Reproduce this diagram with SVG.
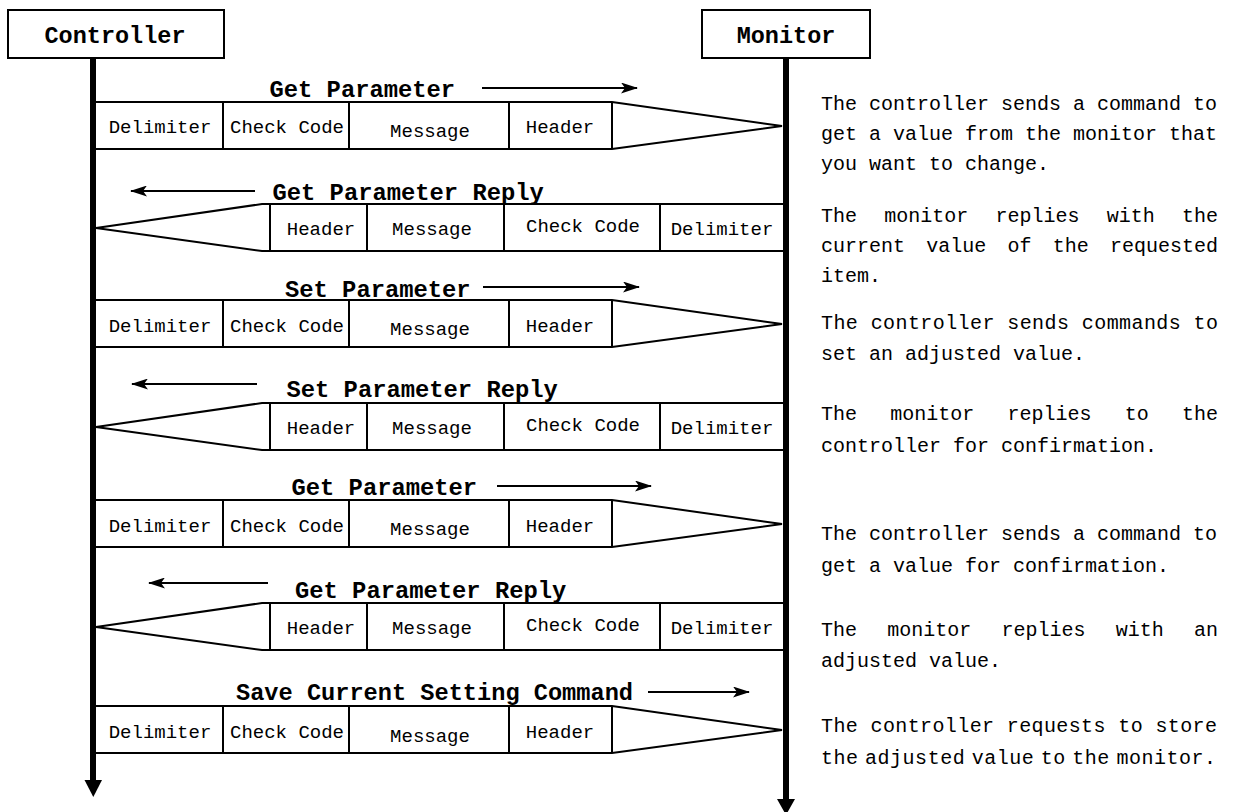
<svg xmlns="http://www.w3.org/2000/svg" width="1246" height="812" viewBox="0 0 1246 812">
<style>
.box{fill:#fff;stroke:#000;stroke-width:2}
.pk{fill:none;stroke:#000;stroke-width:2;stroke-linejoin:miter}
.life{stroke:#000;stroke-width:6;fill:none}
.lbl{font-family:"Courier New","Liberation Mono",monospace;font-weight:bold;font-size:23.8px;fill:#000}
.cell{font-family:"Courier New","Liberation Mono",monospace;font-size:19px;fill:#000;text-anchor:middle}
.desc{font-family:"Courier New","Liberation Mono",monospace;font-size:20px;fill:#000}
.ttl{font-family:"Courier New","Liberation Mono",monospace;font-weight:bold;font-size:23.5px;fill:#000;text-anchor:middle}
.arr{stroke:#000;stroke-width:2;fill:none}
</style>
<defs>
<marker id="ah" viewBox="0 0 17 11" refX="16" refY="5.5" markerWidth="17" markerHeight="11" markerUnits="userSpaceOnUse" orient="auto">
<path d="M0,0 L17,5.5 L0,11 L4,5.5 z" fill="#000"/>
</marker>
</defs>
<rect width="1246" height="812" fill="#fff"/>

<g id="controller">
<rect class="box" x="8" y="10" width="216" height="48"/>
<text class="ttl" x="115" y="43">Controller</text>
<line class="life" x1="93" y1="58" x2="93" y2="782"/>
<path d="M84.5,780 L102,780 L93.3,797 z" fill="#000"/>
</g>
<g id="monitor">
<rect class="box" x="702" y="10" width="168" height="48"/>
<text class="ttl" x="786" y="43">Monitor</text>
<line class="life" x1="786" y1="58" x2="786" y2="801"/>
<path d="M777,799 L795,799 L786,815 z" fill="#000"/>
</g>

<g id="connectors">
<line class="arr" x1="482" y1="88" x2="637" y2="88" marker-end="url(#ah)"/>
<line class="arr" x1="255" y1="191" x2="131" y2="191" marker-end="url(#ah)"/>
<line class="arr" x1="483" y1="287" x2="639" y2="287" marker-end="url(#ah)"/>
<line class="arr" x1="257" y1="384" x2="132" y2="384" marker-end="url(#ah)"/>
<line class="arr" x1="497" y1="486" x2="651" y2="486" marker-end="url(#ah)"/>
<line class="arr" x1="268" y1="583" x2="149" y2="583" marker-end="url(#ah)"/>
<line class="arr" x1="648" y1="692" x2="749" y2="692" marker-end="url(#ah)"/>
</g>

<g id="p1">
<text class="lbl" x="269.5" y="96.5">Get Parameter</text>
<path class="pk" d="M96,102 H612 L782,126 L612,149 H96 M223,102 V149 M349,102 V149 M509,102 V149 M612,102 V149"/>
<text class="cell" x="160" y="133.3">Delimiter</text>
<text class="cell" x="287" y="133.3">Check Code</text>
<text class="cell" x="430" y="136.7">Message</text>
<text class="cell" x="560" y="133.3">Header</text>
</g>

<g id="p2">
<text class="lbl" x="272.5" y="200">Get Parameter Reply</text>
<path class="pk" d="M783,204 H262 L96,228 L262,251 H783 M270,204 V251 M367,204 V251 M504,204 V251 M660,204 V251"/>
<text class="cell" x="321" y="235">Header</text>
<text class="cell" x="432" y="235">Message</text>
<text class="cell" x="583" y="232">Check Code</text>
<text class="cell" x="722" y="235">Delimiter</text>
</g>

<g id="p3">
<text class="lbl" x="285" y="297">Set Parameter</text>
<path class="pk" d="M96,300 H612 L782,324 L612,347 H96 M223,300 V347 M349,300 V347 M509,300 V347 M612,300 V347"/>
<text class="cell" x="160" y="331.5">Delimiter</text>
<text class="cell" x="287" y="331.5">Check Code</text>
<text class="cell" x="430" y="334.8">Message</text>
<text class="cell" x="560" y="331.5">Header</text>
</g>

<g id="p4">
<text class="lbl" x="286.5" y="396.5">Set Parameter Reply</text>
<path class="pk" d="M783,403 H262 L96,427 L262,450 H783 M270,403 V450 M367,403 V450 M504,403 V450 M660,403 V450"/>
<text class="cell" x="321" y="434">Header</text>
<text class="cell" x="432" y="434">Message</text>
<text class="cell" x="583" y="431">Check Code</text>
<text class="cell" x="722" y="434">Delimiter</text>
</g>

<g id="p5">
<text class="lbl" x="291.5" y="494.5">Get Parameter</text>
<path class="pk" d="M96,500 H612 L782,524 L612,547 H96 M223,500 V547 M349,500 V547 M509,500 V547 M612,500 V547"/>
<text class="cell" x="160" y="531.5">Delimiter</text>
<text class="cell" x="287" y="531.5">Check Code</text>
<text class="cell" x="430" y="535">Message</text>
<text class="cell" x="560" y="531.5">Header</text>
</g>

<g id="p6">
<text class="lbl" x="295" y="597.5">Get Parameter Reply</text>
<path class="pk" d="M783,603 H262 L96,627 L262,650 H783 M270,603 V650 M367,603 V650 M504,603 V650 M660,603 V650"/>
<text class="cell" x="321" y="634">Header</text>
<text class="cell" x="432" y="634">Message</text>
<text class="cell" x="583" y="631">Check Code</text>
<text class="cell" x="722" y="634">Delimiter</text>
</g>

<g id="p7">
<text class="lbl" x="236" y="700" textLength="397" lengthAdjust="spacingAndGlyphs">Save Current Setting Command</text>
<path class="pk" d="M96,706 H612 L782,730 L612,753 H96 M223,706 V753 M349,706 V753 M509,706 V753 M612,706 V753"/>
<text class="cell" x="160" y="738">Delimiter</text>
<text class="cell" x="287" y="738">Check Code</text>
<text class="cell" x="430" y="741.5">Message</text>
<text class="cell" x="560" y="738">Header</text>
</g>

<g id="descriptions">
<text class="desc" x="821" y="110">The controller sends a command to</text>
<text class="desc" x="821" y="140">get a value from the monitor that</text>
<text class="desc" x="821" y="170">you want to change.</text>
<text class="desc" x="821" y="221.5" word-spacing="15.25">The monitor replies with the</text>
<text class="desc" x="821" y="251.5" word-spacing="9.25">current value of the requested</text>
<text class="desc" x="821" y="281.5">item.</text>
<text class="desc" x="821" y="328.5" textLength="397" lengthAdjust="spacing">The controller sends commands to</text>
<text class="desc" x="821" y="360">set an adjusted value.</text>
<text class="desc" x="821" y="420" word-spacing="21.25">The monitor replies to the</text>
<text class="desc" x="821" y="451.5">controller for confirmation.</text>
<text class="desc" x="821" y="540">The controller sends a command to</text>
<text class="desc" x="821" y="571.5">get a value for confirmation.</text>
<text class="desc" x="821" y="636" word-spacing="18.25">The monitor replies with an</text>
<text class="desc" x="821" y="666.5">adjusted value.</text>
<text class="desc" x="821" y="731.5" textLength="396" lengthAdjust="spacing">The controller requests to store</text>
<text class="desc" x="821" y="763.5" word-spacing="-6" textLength="395" lengthAdjust="spacing">the adjusted value to the monitor.</text>
</g>
</svg>
